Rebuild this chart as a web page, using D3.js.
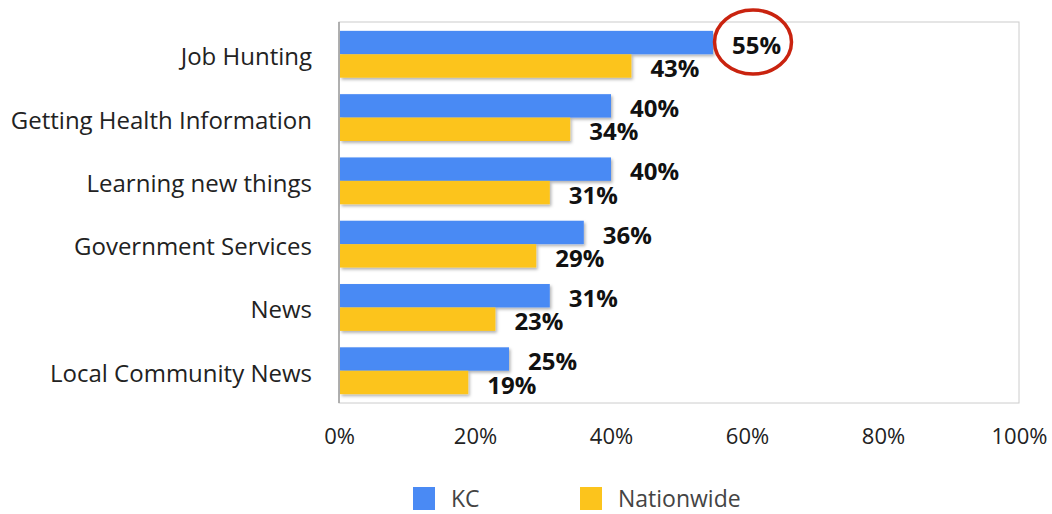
<!DOCTYPE html>
<html>
<head>
<meta charset="utf-8">
<script src="https://cdn.jsdelivr.net/npm/d3@7"></script>
<style>
  html, body { margin: 0; padding: 0; background: #fff; }
  svg { display: block; font-family: "Open Sans", sans-serif; }
</style>
</head>
<body>
<svg id="chart" width="1052" height="514"></svg>
<script>
// Share of respondents using the internet for each activity
const categories = ["Job Hunting", "Getting Health Information", "Learning new things",
                    "Government Services", "News", "Local Community News"];
const kcValues = [55, 40, 40, 36, 31, 25];
const nationwideValues = [43, 34, 31, 29, 23, 19];
const seriesNames = ["KC", "Nationwide"];
const xTicks = [0, 20, 40, 60, 80, 100];
const highlighted = "Job Hunting";

const colors = { KC: "#4a8af4", Nationwide: "#fcc41c" };

const svg = d3.select("#chart");
const plot = { left: 339, right: 1019, top: 22, bottom: 403 };

const defs = svg.append("defs");
const shadow = defs.append("filter").attr("id", "barShadow")
  .attr("x", "-5%").attr("y", "-20%").attr("width", "115%").attr("height", "160%");
shadow.append("feDropShadow").attr("dx", 1.5).attr("dy", 2)
  .attr("stdDeviation", 1.4).attr("flood-color", "#000").attr("flood-opacity", 0.3);

const x = d3.scaleLinear().domain([0, 100]).range([plot.left, plot.right]);
const y = d3.scaleBand().domain(categories).range([plot.top, plot.bottom])
  .paddingInner(0.26).paddingOuter(0.14);
const ySub = d3.scaleBand().domain(seriesNames).range([0, y.bandwidth()]);

const rows = categories.map((c, i) => ({
  category: c,
  values: [
    { series: "KC", value: kcValues[i] },
    { series: "Nationwide", value: nationwideValues[i] }
  ]
}));

// plot frame: light top/right edges, darker axis edges
svg.append("rect")
  .attr("x", plot.left).attr("y", plot.top)
  .attr("width", plot.right - plot.left).attr("height", plot.bottom - plot.top)
  .attr("fill", "none").attr("stroke", "#cccccc").attr("stroke-width", 1);
svg.append("line")
  .attr("x1", plot.left).attr("x2", plot.right)
  .attr("y1", plot.bottom).attr("y2", plot.bottom)
  .attr("stroke", "#9e9e9e").attr("stroke-width", 1.5)
  .attr("filter", "url(#barShadow)");
svg.append("line")
  .attr("x1", plot.left).attr("x2", plot.left)
  .attr("y1", plot.top).attr("y2", plot.bottom)
  .attr("stroke", "#9e9e9e").attr("stroke-width", 1.5);

// bars
const groups = svg.append("g").selectAll("g").data(rows).join("g")
  .attr("transform", d => `translate(0,${y(d.category)})`);

groups.selectAll("rect").data(d => d.values).join("rect")
  .attr("x", x(0) + 1)
  .attr("y", d => ySub(d.series))
  .attr("width", d => x(d.value) - x(0) - 1)
  .attr("height", ySub.bandwidth())
  .attr("fill", d => colors[d.series])
  .attr("filter", "url(#barShadow)");

// value labels
groups.selectAll("text.value").data(d => d.values).join("text")
  .attr("class", "value")
  .attr("x", d => x(d.value) + 19)
  .attr("y", d => ySub(d.series) + ySub.bandwidth() - 0.5)
  .attr("font-size", 24).attr("font-weight", 700).attr("fill", "#111")
  .text(d => d.value + "%");

// highlight ring around the top KC value
const hiIndex = categories.indexOf(highlighted);
svg.append("ellipse")
  .attr("cx", x(kcValues[hiIndex]) + 40)
  .attr("cy", y(highlighted) + ySub("KC") + ySub.bandwidth() / 2 - 0.5)
  .attr("rx", 38.5).attr("ry", 32)
  .attr("fill", "none").attr("stroke", "#c9230f").attr("stroke-width", 3.5);

// category labels
svg.append("g").selectAll("text").data(categories).join("text")
  .attr("x", 312)
  .attr("y", d => y(d) + y.bandwidth() / 2 + 11)
  .attr("text-anchor", "end")
  .attr("font-size", 24).attr("fill", "#222")
  .text(d => d);

// x-axis tick labels
const xAxis = d3.axisBottom(x).tickValues(xTicks).tickSize(0).tickPadding(0)
  .tickFormat(d => d + "%");
const xAxisG = svg.append("g").attr("transform", `translate(0,${plot.bottom})`).call(xAxis);
xAxisG.select(".domain").remove();
xAxisG.selectAll("text")
  .attr("dy", null).attr("y", 41)
  .attr("font-family", "Open Sans, sans-serif")
  .attr("font-size", 22).attr("fill", "#222");

// legend
const legendItems = [
  { name: "KC", x: 413 },
  { name: "Nationwide", x: 580 }
];
const legend = svg.append("g").selectAll("g").data(legendItems).join("g")
  .attr("transform", d => `translate(${d.x},487)`);
legend.append("rect").attr("width", 22).attr("height", 23)
  .attr("fill", d => colors[d.name]);
legend.append("text").attr("x", 38).attr("y", 20)
  .attr("font-size", 23).attr("fill", "#444")
  .text(d => d.name);
</script>
</body>
</html>
